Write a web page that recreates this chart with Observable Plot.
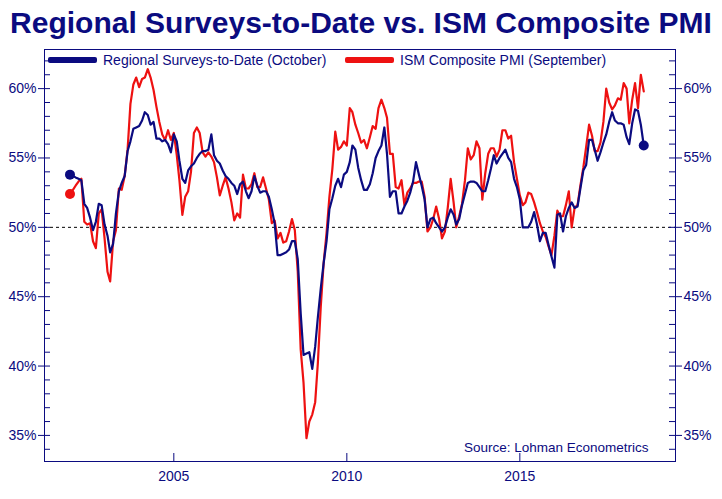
<!DOCTYPE html>
<html>
<head>
<meta charset="utf-8">
<script src="https://cdn.jsdelivr.net/npm/d3@7"></script>
<script src="https://cdn.jsdelivr.net/npm/@observablehq/plot@0.6"></script>
<style>
  body { margin: 0; background: #fff; font-family: "Liberation Sans", Arial, sans-serif; }
  #wrap { position: relative; width: 722px; height: 499px; overflow: hidden; }
  #title { position: absolute; left: 0; top: 8px; width: 722px; text-align: center;
    font-size: 30px; line-height: 30px; font-weight: bold; color: #0b0b80; white-space: nowrap; }
  #chart { position: absolute; left: 0; top: 45px; }
  .legend { position: absolute; top: 53px; height: 14px; font-size: 14px; color: #0b0b80;
    display: flex; align-items: center; white-space: nowrap; }
  .sw { display: inline-block; width: 49px; height: 6px; border-radius: 2px; margin-right: 6px; }
</style>
</head>
<body>
<div id="wrap">
  <div id="title">Regional Surveys-to-Date vs. ISM Composite PMI</div>
  <div id="chart"></div>
  <div class="legend" style="left:48px"><span class="sw" style="background:#0b0b80"></span>Regional Surveys-to-Date (October)</div>
  <div class="legend" style="left:345px"><span class="sw" style="background:#ee1111"></span>ISM Composite PMI (September)</div>
</div>
<script>
const navy = "#0b0b80";
const red = "#ee1111";

// monthly, Jan 2002 .. Aug 2018 (index positions as drawn)
const months = d3.utcMonth.range(new Date(Date.UTC(2002, 0, 1)), new Date(Date.UTC(2018, 8, 1)));

// regional surveys-to-date, %
const regional = [
  53.8, 53.7, 53.6, 53.5, 53.4, 51.7, 51.4, 50.7, 49.8, 50.4,
  51.7, 51.6, 50.2, 49.4, 48.2, 48.8, 51.0, 52.6, 53.2, 53.7,
  55.5, 56.2, 57.1, 57.2, 57.3, 57.7, 58.3, 58.1, 57.4, 57.6,
  56.4, 56.4, 56.2, 56.3, 56.0, 55.4, 56.7, 56.2, 54.8, 53.5,
  53.2, 54.1, 54.4, 54.6, 55.0, 55.3, 55.5, 55.5, 55.6, 56.7,
  55.2, 54.8, 54.6, 54.1, 53.7, 53.5, 53.2, 53.0, 52.4, 53.1,
  53.3, 52.6, 52.1, 52.6, 53.7, 53.0, 52.5, 52.6, 52.6, 52.2,
  51.3, 50.3, 48.0, 48.0, 48.1, 48.2, 48.4, 49.0, 49.0, 47.7,
  43.8, 40.8, 40.9, 41.0, 39.8, 41.4, 43.5, 45.6, 47.4, 49.0,
  51.3, 52.1, 53.0, 53.5, 52.9, 53.8, 54.0, 54.7, 55.9, 55.6,
  54.3, 53.4, 52.7, 52.7, 53.1, 53.9, 55.0, 55.5, 55.9, 57.2,
  55.3, 52.2, 52.6, 52.6, 51.0, 51.0, 51.5, 51.9, 52.5, 53.3,
  54.7, 53.8, 53.0, 52.0, 50.0, 50.6, 50.7, 50.3, 50.0, 49.7,
  50.0, 50.7, 51.3, 50.9, 50.2, 50.6, 51.6, 52.4, 53.2, 53.3,
  53.3, 53.2, 52.9, 52.6, 52.6, 53.4, 54.2, 55.2, 54.6, 55.0,
  55.3, 55.6, 55.0, 54.7, 53.5, 52.9, 52.0, 50.0, 50.0, 50.0,
  50.4, 51.1, 50.2, 49.0, 49.6, 49.6, 48.7, 47.9, 47.1, 50.9,
  51.0, 49.7, 50.8, 51.4, 51.8, 51.4, 51.5, 52.8, 54.1, 54.5,
  56.3, 56.3, 55.6, 54.8, 55.4, 56.1, 56.7, 57.6, 58.3, 57.7,
  57.5, 57.5, 57.4, 56.5, 56.0, 57.5, 58.5, 58.4, 57.4, 55.9
];

// ISM composite PMI, %
const ism = [
  52.4, 52.7, 53.0, 53.3, 53.5, 50.4, 50.2, 50.3, 49.0, 48.5,
  51.0, 51.3, 49.2, 46.8, 46.1, 49.0, 49.8, 52.8, 52.7, 53.7,
  55.6, 58.9, 60.3, 60.8, 60.1, 60.7, 60.8, 61.4, 60.8, 59.9,
  58.7, 57.6, 56.7, 56.3, 57.0, 56.3, 56.8, 55.2, 53.4, 50.9,
  52.2, 52.6, 54.0, 56.8, 57.2, 56.8, 55.4, 55.1, 55.4, 55.1,
  54.7, 53.6, 52.3, 53.0, 53.6, 52.8, 51.8, 50.5, 51.0, 50.7,
  53.8, 52.8, 52.8, 53.1, 53.9, 52.9, 52.9, 53.6, 52.8, 52.0,
  50.3, 50.5, 49.2, 49.6, 48.9, 49.0, 49.7, 50.6, 49.8, 46.8,
  41.2, 38.8, 34.8, 36.0, 36.5, 37.4, 40.2, 44.3, 47.4, 49.6,
  52.2, 54.2, 56.9, 55.6, 55.8, 56.2, 55.9, 58.6, 58.3, 57.4,
  56.8, 56.1, 56.3, 55.7, 56.5, 57.3, 57.1, 58.6, 59.2, 58.6,
  57.9, 55.3, 55.3, 52.9, 52.8, 53.4, 51.6, 52.5, 52.8, 53.2,
  53.2, 53.3, 53.3, 52.2, 49.7, 50.0, 50.6, 51.5, 50.6, 49.2,
  49.7, 51.4, 53.5, 51.8, 50.0, 50.8, 51.7, 53.4, 55.7, 54.9,
  55.2, 56.2, 55.7, 52.0, 53.9, 55.3, 55.7, 55.7, 55.1, 55.6,
  57.0, 57.0, 56.4, 56.6, 54.7, 53.5, 52.3, 51.6, 51.8, 52.5,
  52.4, 51.8, 51.1, 50.3, 49.7, 49.3, 48.6, 48.0, 49.4, 51.2,
  50.8, 50.8, 51.6, 52.6, 50.0, 51.4, 51.6, 53.0, 54.3, 55.8,
  57.4, 56.6, 55.5, 55.5, 56.1, 57.6, 60.0, 59.0, 58.5, 58.8,
  59.3, 59.2, 60.4, 60.0, 57.5, 59.2, 60.4, 58.6, 61.0, 59.8
];

const yMajor = [35, 40, 45, 50, 55, 60];
const yMinor = d3.range(34, 63);
const xTicks = [2005, 2010, 2015].map(y => new Date(Date.UTC(y, 0, 1)));

const rows = months.map((d, i) => ({ date: d, regional: regional[i], ism: ism[i] }));
const last = rows[rows.length - 1];

const plot = Plot.plot({
  width: 722,
  height: 454,
  marginTop: 4,
  marginBottom: 38,
  marginLeft: 44,
  marginRight: 47,
  style: { fontFamily: "Liberation Sans, Arial, sans-serif", fontSize: "14px", color: navy, background: "white" },
  x: { type: "utc", domain: [new Date(Date.UTC(2001, 3, 7)), new Date(Date.UTC(2019, 6, 2))] },
  y: { domain: [33.12, 62.82] },
  marks: [
    Plot.ruleY([50], { stroke: "black", strokeDasharray: "3,3" }),
    Plot.line(rows, { x: "date", y: "ism", stroke: red, strokeWidth: 2.2 }),
    Plot.line(rows, { x: "date", y: "regional", stroke: navy, strokeWidth: 2.2 }),
    Plot.dot([rows[0]], { x: "date", y: "ism", r: 5, fill: red }),
    Plot.dot([rows[0], last], { x: "date", y: "regional", r: 5, fill: navy }),
    Plot.frame({ stroke: navy }),
    Plot.tickY(yMinor, { y: d => d, stroke: navy, insetRight: 625 }),
    Plot.tickY(yMinor, { y: d => d, stroke: navy, insetLeft: 625 }),
    Plot.tickX(xTicks, { x: d => d, stroke: navy, insetTop: 404 }),
    Plot.axisY(yMajor, { anchor: "left", tickSize: 6, tickPadding: 2, tickFormat: d => d + "%", label: null }),
    Plot.axisY(yMajor, { anchor: "right", tickSize: 6, tickPadding: 2, tickFormat: d => d + "%", label: null }),
    Plot.axisX(xTicks, { tickSize: 0, tickPadding: 10, tickFormat: d3.utcFormat("%Y"), label: null }),
    Plot.text(["Source: Lohman Econometrics"], {
      frameAnchor: "bottom-right", dx: -27, dy: -10, fill: navy, fontSize: 13.5, textAnchor: "end"
    })
  ]
});

document.getElementById("chart").appendChild(plot);
</script>
</body>
</html>
